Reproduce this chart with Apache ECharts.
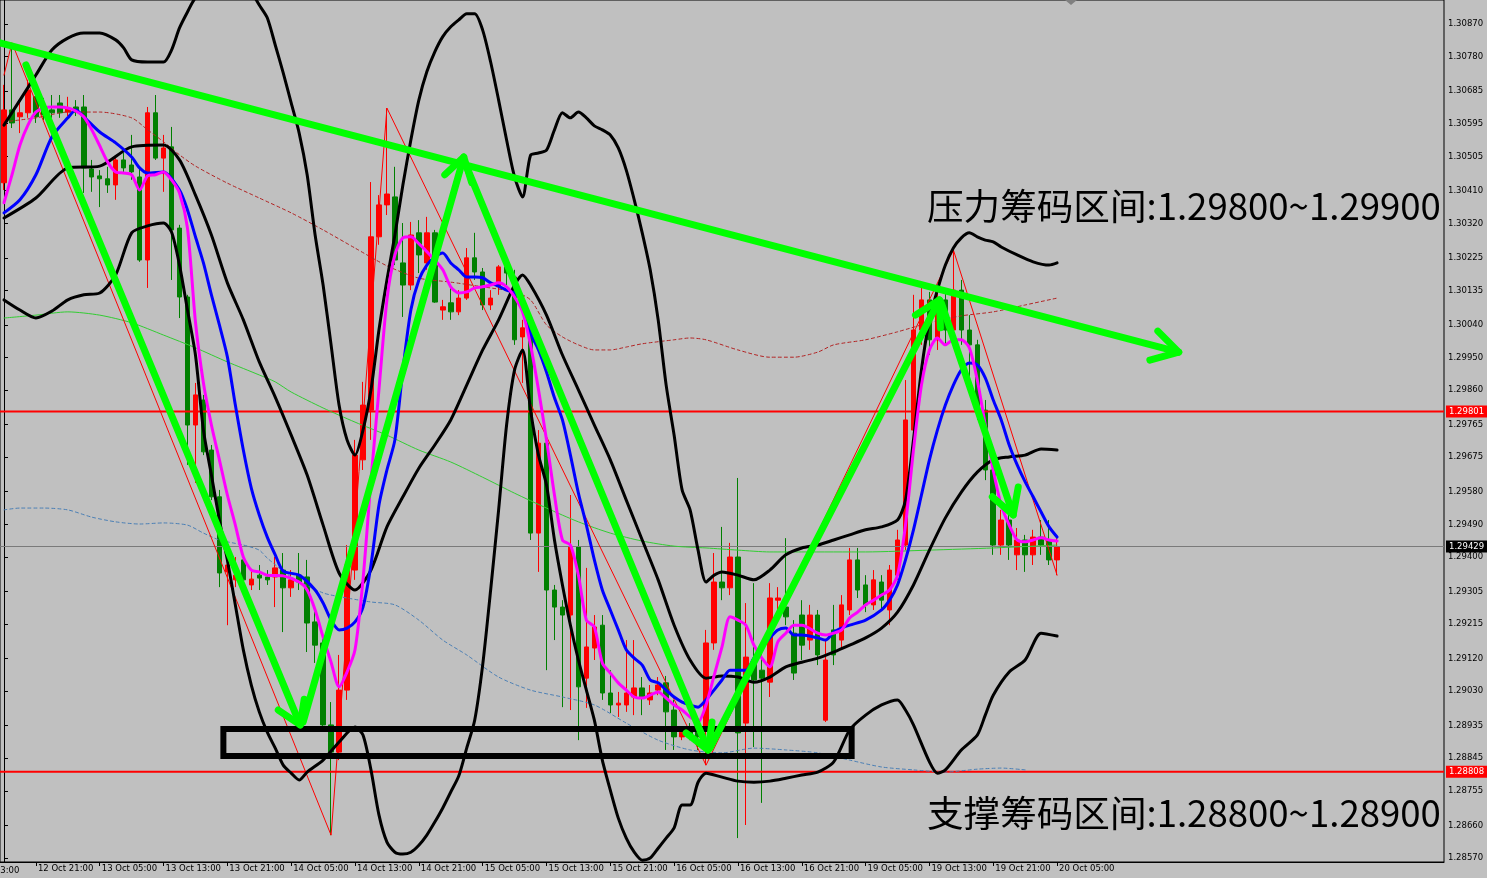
<!DOCTYPE html>
<html><head><meta charset="utf-8">
<script src="https://cdn.jsdelivr.net/npm/echarts@6/dist/echarts.min.js"></script>
<style>html,body{margin:0;padding:0;background:#C0C0C0;overflow:hidden}#chart{width:1487px;height:878px}</style>
</head><body><div id="chart"></div>
<script>
// ---- time axis (H1 bars) ----
const sessions = [['12 Oct',17,23],['13 Oct',0,23],['14 Oct',0,23],['15 Oct',0,23],['16 Oct',0,23],['19 Oct',0,23],['20 Oct',0,5]];
const totalSlots = 181;
// ---- price axis ----
const yMin = 1.28559, yMax = 1.30936;
const yTickLabels = ['1.28570','1.28660','1.28755','1.28845','1.28935','1.29030','1.29120','1.29215','1.29305','1.29400','1.29490','1.29580','1.29675','1.29765','1.29860','1.29950','1.30040','1.30135','1.30225','1.30320','1.30410','1.30505','1.30595','1.30685','1.30780','1.30870'];
// ---- candles ----
const opens  = [1.30432,1.30633,1.30614,1.30625,1.30669,1.30633,1.30633,1.30652,1.30627,1.30641,1.30641,1.30470,1.30451,1.30443,1.30426,1.30495,1.30481,1.30448,1.30219,1.30625,1.30500,1.30531,1.30307,1.30117,1.29764,1.29833,1.29695,1.29566,1.29359,1.29337,1.29392,1.29323,1.29350,1.29345,1.29345,1.29364,1.29315,1.29350,1.29345,1.29221,1.29163,1.28937,1.28862,1.29033,1.29364,1.29668,1.29805,1.30283,1.30371,1.30393,1.30211,1.30150,1.30294,1.30211,1.30294,1.30081,1.30101,1.30076,1.30114,1.30225,1.30186,1.30095,1.30145,1.30200,1.30172,1.30007,1.30032,1.29466,1.29714,1.29309,1.29262,1.29240,1.29428,1.29066,1.29149,1.29212,1.29025,1.28992,1.28992,1.29014,1.29039,1.29006,1.29033,1.29053,1.28978,1.28904,1.28923,1.28923,1.28923,1.29163,1.29331,1.29315,1.29400,1.28942,1.29116,1.29088,1.29055,1.29281,1.29262,1.29190,1.29240,1.29171,1.29240,1.28950,1.29199,1.29171,1.29254,1.29392,1.29323,1.29268,1.29331,1.29254,1.29350,1.29433,1.29750,1.30026,1.30109,1.29999,1.30109,1.30026,1.30136,1.30026,1.29985,1.29805,1.29640,1.29433,1.29502,1.29406,1.29447,1.29406,1.29455,1.29447,1.29392];
const closes = [1.30633,1.30597,1.30625,1.30688,1.30614,1.30619,1.30625,1.30625,1.30638,1.30627,1.30473,1.30448,1.30443,1.30426,1.30495,1.30473,1.30462,1.30219,1.30625,1.30500,1.30528,1.30302,1.30117,1.29764,1.29847,1.29690,1.29566,1.29356,1.29378,1.29350,1.29337,1.29339,1.29342,1.29337,1.29370,1.29315,1.29337,1.29331,1.29218,1.29157,1.28937,1.28862,1.29033,1.29378,1.29681,1.29819,1.30283,1.30371,1.30401,1.30219,1.30150,1.30288,1.30233,1.30294,1.30103,1.30090,1.30076,1.30114,1.30225,1.30186,1.30095,1.30114,1.30200,1.30183,1.29999,1.30032,1.29466,1.29714,1.29309,1.29262,1.29240,1.29428,1.29042,1.29152,1.29207,1.29025,1.28992,1.28997,1.29025,1.29039,1.29014,1.29025,1.29047,1.28973,1.28904,1.28917,1.28904,1.28904,1.29163,1.29331,1.29315,1.29400,1.28915,1.29124,1.29061,1.29066,1.29287,1.29287,1.29235,1.29080,1.29157,1.29240,1.29130,1.29116,1.29130,1.29268,1.29392,1.29309,1.29268,1.29337,1.29281,1.29364,1.29447,1.29778,1.30026,1.30109,1.29999,1.30109,1.30026,1.30136,1.30026,1.29985,1.29805,1.29640,1.29433,1.29502,1.29433,1.29447,1.29406,1.29455,1.29433,1.29392,1.29429];
const lows   = [1.30412,1.30583,1.30569,1.30611,1.30597,1.30605,1.30611,1.30611,1.30616,1.30616,1.30404,1.30407,1.30365,1.30404,1.30385,1.30459,1.30440,1.30214,1.30142,1.30495,1.30407,1.30164,1.30059,1.29654,1.29604,1.29681,1.29557,1.29317,1.29212,1.29317,1.29323,1.29309,1.29309,1.29323,1.29262,1.29193,1.29290,1.29309,1.29138,1.29108,1.28923,1.28633,1.28840,1.29006,1.29337,1.29640,1.29723,1.30261,1.30343,1.30205,1.30062,1.30136,1.30183,1.30192,1.30101,1.30054,1.30054,1.30067,1.30109,1.30164,1.30081,1.30081,1.30123,1.30150,1.29985,1.29880,1.29447,1.29359,1.29088,1.29171,1.28986,1.28978,1.28895,1.28984,1.29116,1.29006,1.28970,1.28959,1.28973,1.28964,1.28964,1.28992,1.29019,1.28868,1.28868,1.28895,1.28895,1.28868,1.28826,1.29144,1.29281,1.29295,1.28625,1.28661,1.28876,1.28722,1.29014,1.29254,1.29212,1.29061,1.29116,1.29144,1.29102,1.28945,1.29102,1.29149,1.29240,1.29287,1.29248,1.29254,1.29254,1.29212,1.29337,1.29419,1.29723,1.29985,1.29957,1.29971,1.29985,1.29999,1.29985,1.29888,1.29778,1.29612,1.29406,1.29406,1.29392,1.29364,1.29359,1.29378,1.29406,1.29378,1.29350];
const highs  = [1.30702,1.30818,1.30660,1.30716,1.30683,1.30666,1.30674,1.30674,1.30669,1.30660,1.30674,1.30495,1.30467,1.30476,1.30503,1.30514,1.30564,1.30476,1.30641,1.30674,1.30564,1.30586,1.30316,1.30123,1.29880,1.29847,1.29709,1.29585,1.29392,1.29400,1.29406,1.29364,1.29378,1.29364,1.29400,1.29411,1.29364,1.29411,1.29392,1.29254,1.29177,1.29000,1.29130,1.29433,1.29723,1.29883,1.30434,1.30398,1.30638,1.30476,1.30321,1.30324,1.30329,1.30338,1.30302,1.30109,1.30145,1.30136,1.30252,1.30294,1.30197,1.30136,1.30205,1.30219,1.30192,1.30054,1.30040,1.29750,1.29723,1.29323,1.29281,1.29571,1.29447,1.29370,1.29240,1.29240,1.29088,1.29028,1.29171,1.29171,1.29069,1.29047,1.29069,1.29072,1.29006,1.28928,1.28942,1.28950,1.29199,1.29411,1.29483,1.29439,1.29618,1.29273,1.29328,1.29144,1.29328,1.29317,1.29452,1.29226,1.29281,1.29268,1.29254,1.29171,1.29268,1.29295,1.29425,1.29425,1.29350,1.29364,1.29350,1.29378,1.29475,1.29888,1.30123,1.30150,1.30131,1.30136,1.30131,1.30247,1.30164,1.30067,1.29999,1.29833,1.29681,1.29530,1.29516,1.29480,1.29461,1.29475,1.29502,1.29502,1.29452];
// ---- indicators, [bar index, price] ----
const bbUpper = [[0,1.30591],[2,1.30660],[4,1.30729],[6,1.30798],[8,1.30831],[10,1.30845],[12,1.30845],[14,1.30826],[15,1.30804],[16,1.30771],[18,1.30765],[20,1.30765],[21,1.30798],[22,1.30859],[23,1.30903],[24,1.30942],[26,1.30978],[28,1.31005],[30,1.30978],[31,1.30958],[32,1.30922],[33,1.30887],[34,1.30812],[35,1.30735],[36,1.30652],[37,1.30569],[38,1.30454],[39,1.30288],[40,1.30150],[41,1.29985],[42,1.29819],[43,1.29723],[44,1.29681],[45,1.29750],[46,1.29861],[47,1.30026],[48,1.30164],[49,1.30288],[50,1.30426],[51,1.30550],[52,1.30660],[53,1.30738],[54,1.30793],[55,1.30835],[56,1.30862],[57,1.30881],[58,1.30898],[59,1.30898],[60,1.30853],[61,1.30765],[62,1.30660],[63,1.30550],[64,1.30448],[65,1.30393],[66,1.30508],[67,1.30514],[68,1.30522],[69,1.30578],[70,1.30625],[71,1.30611],[72,1.30627],[73,1.30611],[74,1.30589],[75,1.30578],[76,1.30564],[77,1.30528],[78,1.30467],[79,1.30385],[80,1.30294],[81,1.30192],[82,1.30054],[83,1.29874],[84,1.29736],[85,1.29585],[86,1.29530],[87,1.29419],[88,1.29331],[89,1.29350],[90,1.29359],[92,1.29350],[94,1.29337],[96,1.29364],[98,1.29406],[100,1.29425],[102,1.29433],[104,1.29447],[106,1.29461],[108,1.29475],[110,1.29483],[112,1.29502],[113,1.29557],[114,1.29723],[115,1.29916],[116,1.30054],[117,1.30136],[118,1.30205],[119,1.30252],[120,1.30280],[121,1.30294],[122,1.30283],[123,1.30274],[124,1.30269],[125,1.30255],[127,1.30233],[129,1.30214],[131,1.30205],[132,1.30211]];
const bbMiddle = [[0,1.30335],[4,1.30390],[8,1.30473],[12,1.30478],[16,1.30531],[20,1.30536],[22,1.30495],[24,1.30398],[26,1.30288],[28,1.30156],[30,1.30054],[32,1.29938],[34,1.29841],[36,1.29736],[38,1.29626],[40,1.29488],[42,1.29356],[44,1.29309],[46,1.29364],[48,1.29483],[50,1.29566],[52,1.29645],[54,1.29709],[56,1.29778],[58,1.29874],[60,1.29971],[62,1.30054],[64,1.30150],[65,1.30178],[66,1.30150],[68,1.30067],[70,1.29957],[72,1.29861],[74,1.29764],[76,1.29668],[78,1.29557],[80,1.29447],[82,1.29337],[84,1.29212],[86,1.29116],[88,1.29066],[90,1.29072],[92,1.29069],[94,1.29055],[96,1.29069],[98,1.29097],[100,1.29110],[102,1.29121],[104,1.29138],[106,1.29157],[108,1.29177],[110,1.29204],[112,1.29248],[114,1.29323],[116,1.29419],[118,1.29508],[120,1.29579],[122,1.29634],[124,1.29668],[126,1.29676],[128,1.29681],[130,1.29698],[132,1.29695]];
const bbLower = [[0,1.30109],[2,1.30081],[4,1.30059],[6,1.30078],[8,1.30109],[10,1.30123],[12,1.30128],[14,1.30178],[16,1.30294],[18,1.30313],[20,1.30321],[21,1.30296],[22,1.30205],[23,1.30081],[24,1.29957],[25,1.29750],[26,1.29626],[27,1.29502],[28,1.29392],[29,1.29268],[30,1.29144],[31,1.29047],[32,1.28973],[33,1.28917],[34,1.28873],[35,1.28826],[36,1.28804],[37,1.28785],[38,1.28807],[40,1.28840],[42,1.28890],[44,1.28931],[45,1.28909],[46,1.28813],[47,1.28689],[48,1.28614],[49,1.28586],[50,1.28581],[51,1.28586],[52,1.28605],[53,1.28633],[54,1.28669],[55,1.28708],[56,1.28752],[57,1.28796],[58,1.28873],[59,1.28950],[60,1.29102],[61,1.29309],[62,1.29530],[63,1.29764],[64,1.29916],[65,1.29971],[66,1.29805],[67,1.29681],[68,1.29599],[69,1.29447],[70,1.29323],[71,1.29212],[72,1.29116],[73,1.29033],[74,1.28950],[75,1.28840],[76,1.28757],[77,1.28680],[78,1.28625],[79,1.28586],[80,1.28564],[81,1.28570],[82,1.28597],[83,1.28625],[84,1.28653],[85,1.28716],[86,1.28716],[87,1.28779],[88,1.28804],[90,1.28793],[92,1.28782],[94,1.28779],[96,1.28782],[98,1.28790],[100,1.28799],[102,1.28807],[104,1.28835],[106,1.28923],[108,1.28964],[110,1.28992],[112,1.29006],[113,1.28978],[114,1.28937],[116,1.28835],[117,1.28804],[118,1.28813],[120,1.28868],[122,1.28909],[123,1.28964],[124,1.29019],[126,1.29083],[128,1.29116],[130,1.29190],[132,1.29182]];
const maFast = [[0,1.30377],[1,1.30454],[2,1.30536],[3,1.30591],[4,1.30627],[5,1.30638],[6,1.30641],[7,1.30641],[8,1.30638],[9,1.30630],[10,1.30614],[11,1.30578],[12,1.30534],[13,1.30489],[14,1.30462],[15,1.30459],[16,1.30454],[17,1.30412],[18,1.30451],[19,1.30454],[20,1.30462],[21,1.30440],[22,1.30404],[23,1.30307],[24,1.30048],[25,1.29880],[26,1.29764],[27,1.29668],[28,1.29571],[29,1.29488],[30,1.29400],[31,1.29364],[32,1.29359],[33,1.29350],[35,1.29348],[37,1.29331],[38,1.29309],[39,1.29254],[40,1.29179],[41,1.29110],[42,1.29042],[43,1.29083],[44,1.29144],[45,1.29337],[46,1.29612],[47,1.29861],[48,1.30109],[49,1.30233],[50,1.30280],[51,1.30283],[52,1.30264],[53,1.30242],[54,1.30219],[55,1.30192],[56,1.30145],[57,1.30128],[58,1.30131],[59,1.30142],[60,1.30145],[61,1.30150],[62,1.30156],[63,1.30145],[64,1.30117],[65,1.30076],[66,1.29985],[67,1.29861],[68,1.29723],[69,1.29571],[70,1.29447],[71,1.29433],[72,1.29350],[73,1.29226],[74,1.29207],[75,1.29108],[76,1.29080],[77,1.29053],[78,1.29033],[79,1.29014],[80,1.29011],[81,1.29019],[82,1.29028],[83,1.29011],[84,1.28992],[85,1.28978],[86,1.28959],[87,1.28945],[88,1.28992],[89,1.29072],[90,1.29152],[91,1.29235],[92,1.29226],[93,1.29212],[94,1.29157],[95,1.29121],[96,1.29097],[97,1.29166],[98,1.29190],[99,1.29212],[100,1.29212],[102,1.29190],[103,1.29185],[104,1.29190],[105,1.29199],[106,1.29232],[107,1.29248],[108,1.29268],[109,1.29281],[110,1.29295],[111,1.29309],[112,1.29350],[113,1.29488],[114,1.29695],[115,1.29874],[116,1.29971],[117,1.30004],[118,1.29985],[119,1.29999],[120,1.29999],[121,1.29977],[122,1.29888],[123,1.29764],[124,1.29640],[125,1.29543],[126,1.29488],[127,1.29447],[128,1.29442],[129,1.29447],[130,1.29453],[131,1.29447],[132,1.29444]];
const maSlow = [[0,1.30349],[2,1.30385],[4,1.30454],[6,1.30558],[8,1.30611],[9,1.30633],[10,1.30614],[12,1.30572],[14,1.30542],[16,1.30503],[17,1.30473],[18,1.30459],[20,1.30462],[22,1.30412],[23,1.30357],[24,1.30283],[25,1.30211],[26,1.30123],[27,1.30040],[28,1.29952],[29,1.29819],[30,1.29695],[31,1.29590],[32,1.29516],[33,1.29455],[34,1.29406],[35,1.29361],[37,1.29350],[39,1.29309],[40,1.29273],[41,1.29226],[42,1.29199],[43,1.29204],[44,1.29221],[45,1.29262],[46,1.29378],[47,1.29543],[48,1.29640],[49,1.29723],[50,1.29916],[51,1.30081],[52,1.30164],[53,1.30205],[54,1.30227],[55,1.30238],[56,1.30211],[57,1.30192],[58,1.30172],[59,1.30172],[60,1.30170],[61,1.30156],[62,1.30147],[63,1.30136],[64,1.30128],[65,1.30103],[66,1.30018],[67,1.29971],[68,1.29910],[69,1.29839],[70,1.29778],[71,1.29681],[72,1.29576],[73,1.29488],[74,1.29392],[75,1.29309],[76,1.29254],[77,1.29199],[78,1.29144],[79,1.29121],[80,1.29102],[81,1.29061],[82,1.29053],[83,1.29033],[84,1.29014],[85,1.29000],[86,1.28992],[87,1.28986],[88,1.29006],[89,1.29033],[90,1.29061],[91,1.29088],[92,1.29088],[93,1.29088],[94,1.29121],[95,1.29152],[96,1.29177],[97,1.29199],[98,1.29204],[99,1.29185],[100,1.29185],[102,1.29177],[103,1.29171],[104,1.29193],[105,1.29204],[106,1.29212],[108,1.29226],[110,1.29254],[111,1.29281],[112,1.29323],[113,1.29392],[114,1.29475],[115,1.29571],[116,1.29668],[117,1.29750],[118,1.29819],[119,1.29874],[120,1.29916],[121,1.29935],[122,1.29930],[123,1.29894],[124,1.29833],[125,1.29778],[126,1.29709],[127,1.29654],[128,1.29607],[129,1.29566],[130,1.29524],[131,1.29483],[132,1.29455]];
const maRedDotted = [[0,1.30600],[4,1.30611],[8,1.30627],[12,1.30627],[16,1.30611],[18,1.30578],[20,1.30545],[22,1.30509],[24,1.30478],[28,1.30431],[32,1.30390],[36,1.30349],[40,1.30302],[44,1.30252],[48,1.30203],[52,1.30169],[56,1.30158],[60,1.30145],[64,1.30131],[66,1.30109],[68,1.30040],[70,1.30007],[72,1.29985],[74,1.29971],[76,1.29971],[78,1.29979],[80,1.29988],[84,1.29999],[86,1.30004],[88,1.29999],[92,1.29971],[96,1.29951],[99,1.29951],[102,1.29965],[104,1.29985],[108,1.29999],[112,1.30021],[116,1.30046],[120,1.30065],[124,1.30076],[128,1.30095],[132,1.30114]];
const maGreen = [[0,1.30059],[4,1.30067],[8,1.30076],[12,1.30067],[16,1.30046],[20,1.30012],[24,1.29977],[28,1.29938],[32,1.29902],[34,1.29883],[36,1.29855],[40,1.29811],[44,1.29772],[48,1.29736],[52,1.29695],[56,1.29662],[60,1.29620],[64,1.29576],[68,1.29535],[72,1.29497],[76,1.29466],[80,1.29444],[84,1.29430],[88,1.29425],[92,1.29419],[96,1.29414],[100,1.29414],[108,1.29414],[116,1.29419],[124,1.29425],[132,1.29433]];
const maBlueDotted = [[0,1.29530],[2,1.29535],[5,1.29535],[8,1.29530],[11,1.29510],[14,1.29497],[17,1.29491],[20,1.29494],[23,1.29488],[25,1.29466],[27,1.29447],[30,1.29433],[32,1.29419],[33,1.29397],[36,1.29345],[40,1.29301],[43,1.29287],[46,1.29276],[49,1.29268],[52,1.29226],[55,1.29171],[58,1.29130],[62,1.29069],[66,1.29033],[70,1.29014],[74,1.28992],[78,1.28942],[82,1.28895],[86,1.28868],[90,1.28860],[94,1.28873],[98,1.28868],[102,1.28860],[106,1.28840],[110,1.28821],[114,1.28813],[118,1.28807],[122,1.28815],[125,1.28818],[128,1.28813]];
const zigzag = [[0,1.30729],[1,1.30818],[41,1.28633],[48,1.30638],[88,1.28826],[119,1.30247],[132,1.29350]];
// ---- horizontal levels ----
const resistanceLevel = 1.29801, supportLevel = 1.28808, bidPrice = 1.29429;
// ---- hand-drawn annotations ----
const trendArrow = {body:[[-0.5,1.30818],[147.25,1.29965]], head:[[144.63,1.30023],[147.25,1.29965],[143.63,1.29943]]};
const swingArrows = [
  {body:[[2.75,1.30757],[37.13,1.28937]], head:[[34.38,1.28978],[37.13,1.28937],[37.63,1.29008]]},
  {body:[[37.5,1.28945],[57.63,1.30503]], head:[[55.25,1.30454],[57.63,1.30503],[58.63,1.30432]]},
  {body:[[57.75,1.30489],[88.25,1.28868]], head:[[85.5,1.28915],[88.25,1.28868],[88.75,1.28945]]},
  {body:[[88.5,1.28873],[117.25,1.30109]], head:[[114.25,1.30067],[117.25,1.30109],[117.38,1.30032]]},
  {body:[[117.5,1.30100],[126.5,1.29516]], head:[[127.13,1.29593],[126.5,1.29516],[123.88,1.29566]]}
];
const supportBoxX = [27.5, 106.25], supportBoxY = [1.28851, 1.28926];
const resistanceText = '压力筹码区间:1.29800~1.29900';
const supportText = '支撑筹码区间:1.28800~1.28900';

// ---- build ----
const categories = [];
sessions.forEach(([d, h0, h1]) => { for (let h = h0; h <= h1; h++) categories.push(d + ' ' + String(h).padStart(2,'0') + ':00'); });
while (categories.length < totalSlots) categories.push('');
const candles = opens.map((o, k) => [o, closes[k], lows[k], highs[k]]);
const yTicks = yTickLabels.map(Number);
const showTime = (idx, val) => /(05|13|21):00$/.test(val);
const font = 'DejaVu Sans';
const xEdge = [-0.5, totalSlots - 0.5];

function line(data, color, width, type, z, smooth) {
  return {type:'line', xAxisIndex:1, yAxisIndex:0, data, symbol:'none', silent:true, z,
    smooth: smooth === undefined ? 0.25 : smooth,
    lineStyle:{color, width, type, cap:'round', join:'round'}};
}
function level(v, color, width, bg) {
  const s = line([[xEdge[0], v], [xEdge[1], v]], color, width, 'solid', 3, false);
  s.lineStyle.cap = 'butt';
  s.endLabel = {show:true, formatter: v.toFixed(5), backgroundColor: bg, color:'#fff', padding:[2,3,1,3],
    fontSize:8.5, fontFamily:font, distance:2};
  return s;
}

const series = [
  {type:'candlestick', xAxisIndex:0, yAxisIndex:0, data:candles, barWidth:5, z:2, silent:true,
   itemStyle:{color:'#FF0000', color0:'#008000', borderColor:'#FF0000', borderColor0:'#008000', borderWidth:1}},
  level(bidPrice, '#7A7A7A', 1, '#000000'),
  level(resistanceLevel, '#FF0000', 2, '#FF0000'),
  level(supportLevel, '#FF0000', 2, '#FF0000'),
  line(maGreen, '#32CD32', 1, 'solid', 3),
  line(maBlueDotted, '#4A7FB5', 1, [3,3], 3),
  line(maRedDotted, '#B22222', 1, [3,3], 3),
  line(zigzag, '#FF0000', 1, 'solid', 4, false),
  line(bbUpper, '#000000', 3, 'solid', 5),
  line(bbMiddle, '#000000', 3, 'solid', 5),
  line(bbLower, '#000000', 3, 'solid', 5),
  line(maSlow, '#0000FF', 3, 'solid', 6),
  line(maFast, '#FF00FF', 3, 'solid', 7),
];
const box = [[supportBoxX[0],supportBoxY[1]],[supportBoxX[1],supportBoxY[1]],[supportBoxX[1],supportBoxY[0]],[supportBoxX[0],supportBoxY[0]],[supportBoxX[0],supportBoxY[1]]];
const boxS = line(box, '#000000', 6, 'solid', 9, false); boxS.lineStyle.join = 'miter'; boxS.lineStyle.cap = 'square';
series.push(boxS);
[trendArrow].concat(swingArrows).forEach(a => {
  series.push(line(a.body, '#00FF00', 7, 'solid', 10, false));
  series.push(line(a.head, '#00FF00', 7, 'solid', 10, false));
});

const chart = echarts.init(document.getElementById('chart'), null, {renderer:'canvas'});
chart.setOption({
  animation:false,
  backgroundColor:'#C0C0C0',
  grid:{left:-4, right:43, top:0, bottom:16, show:true, borderColor:'#000', borderWidth:1, backgroundColor:'#C0C0C0', containLabel:false},
  xAxis:[
    {type:'category', data:categories, boundaryGap:true,
     axisLine:{show:true, lineStyle:{color:'#000', width:1}},
     axisTick:{show:true, alignWithLabel:true, interval:showTime, length:4, lineStyle:{color:'#000'}},
     axisLabel:{interval:showTime, align:'left', margin:2, padding:[0,0,0,2], color:'#000', fontFamily:font, fontSize:8.5},
     splitLine:{show:false}},
    {type:'value', min:xEdge[0], max:xEdge[1], show:false}
  ],
  yAxis:{type:'value', position:'right', min:yMin, max:yMax,
    axisLine:{show:true, lineStyle:{color:'#000'}},
    axisTick:{show:true, customValues:yTicks, length:4, lineStyle:{color:'#000'}},
    axisLabel:{customValues:yTicks, formatter:(v) => { const k = yTicks.findIndex(t => Math.abs(t - v) < 1e-7); return k >= 0 ? yTickLabels[k] : ''; },
      color:'#000', fontFamily:font, fontSize:8.5, margin:4},
    splitLine:{show:false}},
  graphic:[
    {type:'text', left:927, top:188, z:100, style:{text:resistanceText, fill:'#000', font:'36.6px "Noto Sans CJK SC"'}},
    {type:'text', left:927, top:795, z:100, style:{text:supportText, fill:'#000', font:'36.6px "Noto Sans CJK SC"'}},
    {type:'text', left:-36, top:866, z:100, style:{text:'12 Oct 13:00', fill:'#000', font:'8.5px "DejaVu Sans"'}},
    {type:'polygon', z:100, shape:{points:[[1065,0],[1077,0],[1071,5]]}, style:{fill:'#808080'}}
  ],
  series
});
</script>
</body></html>
